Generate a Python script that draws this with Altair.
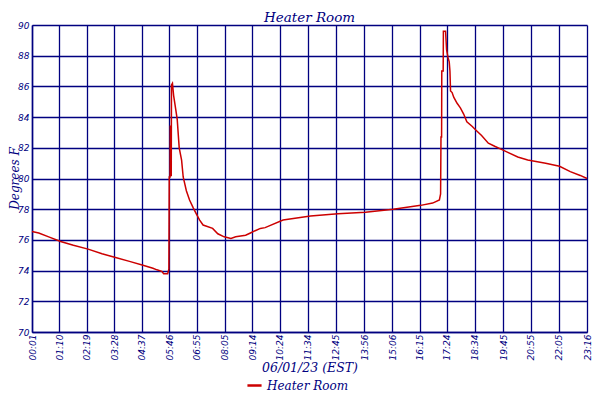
import altair as alt
import pandas as pd

# Temperature readings (minutes after midnight, degrees F)
minutes = [1, 18, 43, 73, 105, 142, 177, 211, 246, 280, 305, 315, 327, 332, 342, 345,
           346, 348, 348.6, 349.6, 350.2, 351, 351.6, 354, 357, 360, 366, 371, 377, 381,
           389, 397, 406, 414, 422, 431, 455, 468, 484, 501, 513, 538, 550, 562, 575, 587,
           632, 701, 770, 839, 909, 978, 1008, 1025, 1028, 1029, 1030.5, 1031, 1034.5,
           1035, 1040.5, 1043, 1046.5, 1049.7, 1051.5, 1053, 1057, 1061, 1069.5, 1077.7,
           1086, 1094, 1107, 1119, 1131, 1148, 1164, 1181, 1197, 1222, 1247, 1292, 1327,
           1354, 1379, 1396]
temps = [76.55, 76.45, 76.2, 75.9, 75.65, 75.4, 75.1, 74.85, 74.6, 74.35, 74.15, 74.05, 73.95, 73.8, 73.8, 74.1,
         80.1, 80.1, 83.4, 83.4, 80.2, 80.2, 86.1, 86.2, 85.4, 84.9, 83.85, 82.0, 81.2, 80.1,
         79.2, 78.6, 78.1, 77.7, 77.3, 76.97, 76.75, 76.4, 76.2, 76.1, 76.2, 76.3, 76.45, 76.6, 76.75, 76.8,
         77.3, 77.55, 77.7, 77.8, 78.0, 78.25, 78.4, 78.6, 79.0, 82.7, 82.7, 87.0, 87.0,
         89.6, 89.6, 88.4, 87.9, 87.6, 87.0, 85.7, 85.6, 85.3, 84.9, 84.6,
         84.2, 83.7, 83.4, 83.1, 82.8, 82.3, 82.1, 81.9, 81.7, 81.4, 81.2, 81.0, 80.8,
         80.45, 80.2, 80.0]
series = ["Heater Room"] * len(minutes)

tick_minutes = [1, 70, 139, 208, 277, 346, 415, 485, 554, 624, 694, 765, 836, 906,
                975, 1044, 1114, 1185, 1255, 1325, 1396]
tick_labels = ["00:01", "01:10", "02:19", "03:28", "04:37", "05:46", "06:55", "08:05",
               "09:14", "10:24", "11:34", "12:45", "13:56", "15:06", "16:15", "17:24",
               "18:34", "19:45", "20:55", "22:05", "23:16"]
y_ticks = [70, 72, 74, 76, 78, 80, 82, 84, 86, 88, 90]

df = pd.DataFrame({"minute": minutes, "temp": temps, "series": series})

NAVY = "#000080"
RED = "#cc0000"

label_expr = "[" + ",".join("'%s'" % s for s in tick_labels) + "][indexof([" + \
    ",".join(str(v) for v in tick_minutes) + "], datum.value)]"

chart = alt.Chart(df).mark_line(strokeWidth=1.5, interpolate="linear").encode(
    x=alt.X("minute:Q",
            scale=alt.Scale(domain=[1, 1396], nice=False, zero=False),
            axis=alt.Axis(values=tick_minutes, labelExpr=label_expr, labelAngle=270,
                          labelAlign="right", labelBaseline="middle",
                          labelFont="DejaVu Sans", labelFontStyle="italic", labelFontSize=9,
                          labelColor=NAVY, labelPadding=2, ticks=False,
                          grid=True, gridColor=NAVY, gridWidth=1.3, gridOpacity=1,
                          domainColor=NAVY, domainWidth=1.5,
                          title="06/01/23 (EST)", titleFont="DejaVu Serif",
                          titleFontStyle="italic", titleFontWeight="normal",
                          titleFontSize=12.5, titleColor=NAVY, titlePadding=2,
                          labelOverlap=False, labelFlush=False)),
    y=alt.Y("temp:Q",
            scale=alt.Scale(domain=[70, 90], nice=False, zero=False),
            axis=alt.Axis(values=y_ticks, labelFont="DejaVu Sans", labelFontStyle="italic",
                          labelFontSize=9, labelColor=NAVY, ticks=False, labelPadding=3,
                          grid=True, gridColor=NAVY, gridWidth=1.3, gridOpacity=1,
                          domainColor=NAVY, domainWidth=1.5,
                          title="Degrees F", titleFont="DejaVu Serif",
                          titleFontStyle="italic", titleFontWeight="normal",
                          titleFontSize=12, titleColor=NAVY,
                          titleAngle=270, titleBaseline="top", titleAlign="center",
                          titleX=-23, titleY=153)),
    color=alt.Color("series:N",
                    scale=alt.Scale(range=[RED]),
                    legend=alt.Legend(title=None, orient="none", legendX=214, legendY=352,
                                      symbolType="stroke", symbolStrokeWidth=2.5,
                                      symbolSize=200, labelFont="DejaVu Serif",
                                      labelFontStyle="italic", labelFontSize=12,
                                      labelColor=NAVY)),
).properties(
    width=555, height=307,
    title=alt.TitleParams("Heater Room", font="DejaVu Serif", fontStyle="italic",
                          fontWeight="normal", fontSize=13.5, color=NAVY, anchor="middle",
                          offset=0, dy=3),
    autosize=alt.AutoSizeParams(type="none"),
    padding={"left": 24, "top": 17, "right": 5, "bottom": 60},
).configure_view(stroke=None)

chart.save("out.html", embed_options={"renderer": "svg", "actions": False})
